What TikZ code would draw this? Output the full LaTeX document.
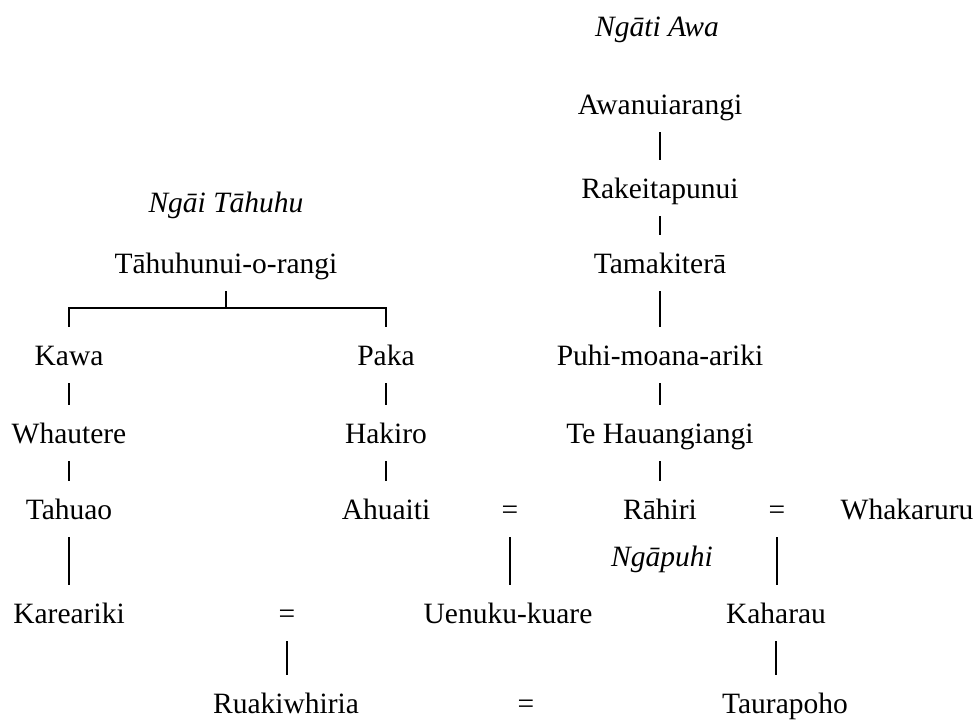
\documentclass[tikz,border=0pt]{standalone}
\usepackage{fontspec}
\setmainfont{Liberation Serif}
\begin{document}
\begin{tikzpicture}[x=0.5pt,y=-0.5pt,
  person/.style={inner sep=0pt, text height=10pt, text depth=3.5pt, anchor=base,
    font=\fontsize{14.75}{17}\selectfont},
  tribe/.style={person, font=\fontsize{14.75}{17}\selectfont\itshape},
  wed/.style={person},
  kin/.style={line width=0.9pt, shorten <=5.5pt, shorten >=9pt},
  bar/.style={line width=0.9pt}]
\useasboundingbox (0,0) rectangle (975,720);

% Ngati Awa line
\node[tribe]  (tawa)   at (657,36)  {Ngāti Awa};
\node[person] (awa)    at (660,114) {Awanuiarangi};
\node[person] (rake)   at (660,198) {Rakeitapunui};
\node[person] (tama)   at (660,273) {Tamakiterā};
\node[person] (puhi)   at (660,365) {Puhi-moana-ariki};
\node[person] (hau)    at (660,443) {Te Hauangiangi};
\node[person] (rahiri) at (660,519) {Rāhiri};
\node[tribe]  (tpuhi)  at (662,566) {Ngāpuhi};

% Ngai Tahuhu line
\node[tribe]  (ttahu)  at (226,212) {Ngāi Tāhuhu};
\node[person] (tahu)   at (226,273) {Tāhuhunui-o-rangi};
\node[person] (kawa)   at (69,365)  {Kawa};
\node[person] (whau)   at (69,443)  {Whautere};
\node[person] (tahuao) at (69,519)  {Tahuao};
\node[person] (karea)  at (69,623)  {Kareariki};
\node[person] (paka)   at (386,365) {Paka};
\node[person] (haki)   at (386,443) {Hakiro};
\node[person] (ahua)   at (386,519) {Ahuaiti};

% marriages and descendants
\node[wed]    (eqa)    at (510,519) {=};
\node[wed]    (eqb)    at (777,519) {=};
\node[person] (whaka)  at (907,519) {Whakaruru};
\node[person] (uenu)   at (508,623) {Uenuku-kuare};
\node[person] (kaha)   at (776,623) {Kaharau};
\node[wed]    (eqc)    at (287,623) {=};
\node[person] (ruaki)  at (286,713) {Ruakiwhiria};
\node[wed]    (eqd)    at (526,713) {=};
\node[person] (taura)  at (785,713) {Taurapoho};

% descent lines
\draw[kin] (awa.south)  -- (rake.north);
\draw[kin] (rake.south) -- (tama.north);
\draw[kin] (tama.south) -- (puhi.north);
\draw[kin] (puhi.south) -- (hau.north);
\draw[kin] (hau.south)  -- (rahiri.north);

\coordinate (fork) at (227,308);
\draw[bar] ([yshift=-5.5pt]tahu.south) -- (tahu.south |- fork);
\draw[bar] ([yshift=9pt]kawa.north) |- (tahu.south |- fork) -| ([yshift=9pt]paka.north);

\draw[kin] (kawa.south)   -- (whau.north);
\draw[kin] (whau.south)   -- (tahuao.north);
\draw[kin] (tahuao.south) -- (karea.north);
\draw[kin] (paka.south)   -- (haki.north);
\draw[kin] (haki.south)   -- (ahua.north);

\draw[kin] (eqa.south)  -- (eqa.south |- uenu.north);
\draw[kin] (eqb.south)  -- (eqb.south |- kaha.north);
\draw[kin] (kaha.south) -- (kaha.south |- taura.north);
\draw[kin] (eqc.south)  -- (eqc.south |- ruaki.north);
\end{tikzpicture}
\end{document}
